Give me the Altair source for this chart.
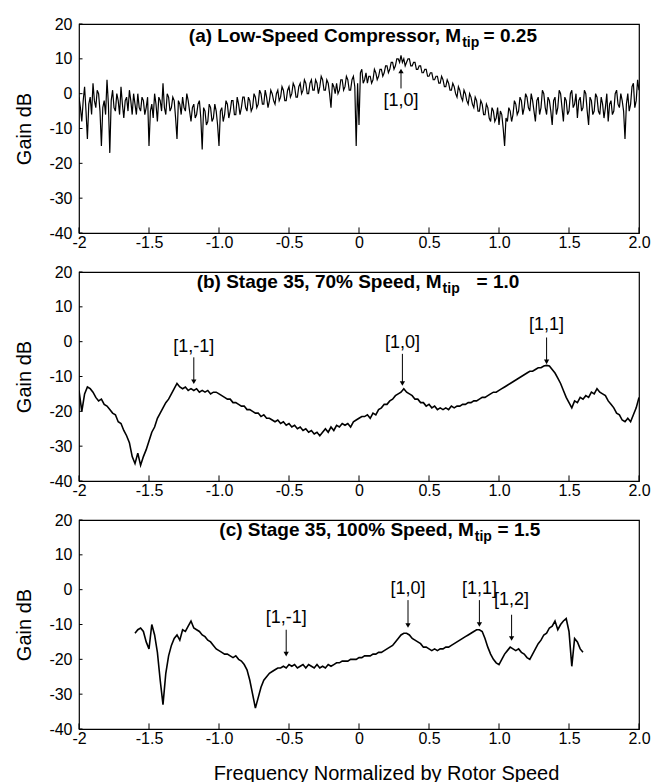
import altair as alt
import numpy as np
import pandas as pd

# ---------------- data ----------------
# (a) Low-speed compressor, frequency grid -2 .. 2 (step 0.01)
gain_a = [
    -1, -4, -8, -2, 2, -5, -13, -3, -1, -6, 3, -2, -4, 1, 0, -5, -15, -4, -2, -6,
    4, -3, -17, -2, 1, -4, -5, 0, -2, -6, 2, -3, -7, -2, -1, -5, 1, -2, -6, 0,
    -3, -6, 0, -4, -5, -1, -2, -6, -4, -1, -15, -5, -3, -7, 0, -3, -8, -1, -2, -5,
    3, -4, -6, 0, -1, -5, -4, -1, -2, -7, -13, -2, -3, -6, -1, -4, -5, 0, -2, -5,
    -8, -4, -3, -7, -6, -3, -2, -7, -16, -4, -5, -9, -8, -3, -4, -8, -7, -3, -5, -9,
    -15, -5, -4, -8, -6, -2, -3, -7, -5, -2, -2, -6, -6, -1, -3, -6, -4, -1, -1, -4,
    -5, -1, -2, -5, -4, 0, -1, -4, -3, 1, 0, -3, -3, 1, -1, -4, -2, 1, 0, -2,
    -3, 0, 1, -2, -1, 2, 1, -2, -2, 1, 2, -1, 0, 3, 2, -1, -1, 2, 3, 0,
    1, 4, 3, 0, 0, 3, 4, 1, 1, 4, 3, 0, 2, 5, 4, 1, 1, 4, 3, 0,
    -4, 3, 2, 0, 3, 0, 1, 4, 4, 1, 2, 5, 4, 1, 1, 4, 5, 2, -15, 3,
    -9, 6, 7, 3, 4, 6, 3, 5, 5, 3, 4, 7, 6, 4, 5, 7, 7, 5, 6, 8,
    8, 6, 7, 9, 9, 7, 8, 10, 10, 9, 11, 9, 10, 8, 9, 10, 10, 8, 8, 9,
    9, 7, 7, 8, 8, 6, 6, 7, 7, 5, 5, 6, 6, 4, 4, 5, 5, 3, 3, 5,
    4, 2, 2, 4, 3, 1, 1, 3, 2, 0, -1, 2, 1, -1, -2, 1, 0, -2, -3, 0,
    -1, -3, -4, -1, -2, -5, -5, -2, -3, -6, -6, -3, -4, -7, -8, -4, -5, -8, -7, -4,
    -9, -5, -6, -10, -15, -7, -8, -4, -5, -8, -6, -2, -3, -6, -5, -1, -2, -6, -4, 0,
    -1, -4, -5, 0, -2, -5, -8, -2, -1, -6, -4, 1, 0, -4, -6, -1, -2, -5, -9, -2,
    -1, -6, -4, 1, 0, -4, -8, -1, -2, -6, -5, 0, 1, -4, -3, 0, -7, -2, -1, -5,
    -4, 1, 0, -5, -9, -1, -2, -6, -5, 0, -1, -5, -6, -1, -3, -7, -4, 0, -8, -3,
    -2, -6, -5, 0, 1, -3, -4, 0, -2, -5, -13, -3, 0, -5, -3, 2, 3, -4, -2, 4,
    1,
]
freq_range_a = [-2.0, 2.0]

# (b) Stage 35, 70% speed, frequency grid -2 .. 2 (step 0.02)
gain_b = [
    -14, -20, -15, -13, -13.5, -14.5, -16, -17, -16.5, -18,
    -18.5, -19.5, -20.5, -21, -23, -23.5, -25.5, -27, -29, -33,
    -35, -32, -35.5, -33, -31, -28.5, -26, -24.5, -22, -20.5,
    -19, -17.5, -16.5, -15, -13.5, -12, -13, -13.5, -13, -14,
    -13.5, -14, -13.5, -14.5, -14, -14.5, -14, -15, -14.5, -14.5,
    -15, -15.5, -16, -16.5, -16.5, -17.5, -17.5, -18, -18.5, -18.5,
    -19.5, -19.5, -20, -20.5, -20.5, -21.5, -21, -22, -22, -22.5,
    -23, -22.5, -23.5, -23, -24, -23.5, -24.5, -24, -25, -24.5,
    -25.5, -25, -26, -25.5, -26.5, -26, -27, -26, -25, -26,
    -24.5, -25.5, -24, -24.5, -23.5, -24, -23.5, -24.5, -23, -22.5,
    -22, -21.5, -21.5, -21, -22, -20.5, -21, -19.5, -19, -18,
    -18, -17, -16.5, -15.5, -15, -14.5, -13.5, -14.5, -15, -15.5,
    -16.5, -16.5, -17.5, -17.5, -18.5, -18, -19, -18.5, -19.5, -19,
    -19.5, -19, -19.5, -18.5, -19, -18.5, -18.5, -18, -18, -17.5,
    -17.5, -17, -17, -16.5, -16, -16, -15.5, -15, -14.5, -14.5,
    -14, -13.5, -13, -12.5, -12, -11.5, -11, -10.5, -10, -9.5,
    -9, -8.5, -8.5, -8, -7.5, -7.5, -7, -6.8, -7, -8,
    -9, -10.5, -12, -14, -16, -17.5, -19, -17, -17.5, -16,
    -16.5, -15.5, -16, -14.5, -15, -13.5, -14.5, -15, -15.5, -17,
    -18, -19, -20.5, -21, -22.5, -23, -22, -23, -21, -19,
    -16,
]
freq_range_b = [-2.0, 2.0]

# (c) Stage 35, 100% speed, frequency grid -1.6 .. 1.6 (step 0.02)
gain_c = [
    -12.5, -11.5, -11, -12, -15, -17, -10, -13, -18, -26,
    -33, -24, -19, -16, -14, -13, -14.5, -11.5, -12, -10.5,
    -9, -11, -11.5, -12, -13, -13.5, -14.5, -15, -16, -17,
    -17.5, -18, -18.5, -18.5, -19, -19.5, -19, -20, -20.5, -21.5,
    -23, -26, -30, -34, -31, -28, -26, -25, -24, -23.5,
    -23, -22.5, -22.5, -22, -22.5, -21.5, -22, -21.5, -22.5, -22,
    -21.5, -22.5, -21.5, -22, -22.5, -21.5, -22.5, -22, -22.5, -21.5,
    -22, -21.5, -21, -21, -20.5, -20.5, -20.5, -20, -20, -20,
    -19.5, -19.5, -19, -19, -19, -18.5, -18.5, -18, -18, -17.5,
    -17, -16.5, -16, -15, -14, -13, -12.5, -12.5, -13, -14,
    -14.5, -15, -15.5, -16.5, -16.5, -17, -17.5, -17, -17.5, -17,
    -17, -16.5, -16.5, -16, -15.5, -15, -14.5, -14, -13.5, -13,
    -12.5, -12, -11.5, -11.5, -12, -14, -16.5, -18.5, -20, -21,
    -21.5, -20, -18.5, -17.5, -16.5, -17, -17.5, -17, -18, -18.5,
    -19.5, -20, -18.5, -17, -15.5, -14.5, -13, -12.5, -11, -10.5,
    -9, -11.5, -10, -9, -8.3, -12, -22, -14, -15, -17,
    -18,
]
freq_range_c = [-1.6, 1.6]

# axis ticks
x_ticks = [-2, -1.5, -1, -0.5, 0, 0.5, 1, 1.5, 2]
x_tick_labels = ["-2", "-1.5", "-1.0", "-0.5", "0", "0.5", "1.0", "1.5", "2.0"]
y_ticks = [20, 10, 0, -10, -20, -30, -40]

# panel titles: main part, "M" end, suffix, suffix start, title height
titles_main = ["(a)  Low-Speed Compressor, M", "(b)  Stage 35, 70% Speed, M", "(c)  Stage 35, 100% Speed, M"]
titles_sub = ["tip", "tip", "tip"]
titles_suffix = ["= 0.25", "= 1.0", "= 1.5"]
titles_m_end = [0.73, 0.59, 0.82]
titles_suffix_x = [0.89, 0.84, 0.99]
titles_y = [16.5, 17.0, 17.0]

# mode annotations
ann_a = {"label": ["[1,0]"], "x": [0.30], "label_y": [-2.0], "from_y": [1.5], "to_y": [6.5], "dir": ["up"]}
ann_b = {"label": ["[1,-1]", "[1,0]", "[1,1]"], "x": [-1.18, 0.31, 1.34],
         "label_y": [-1.6, -0.5, 4.7], "from_y": [-4.5, -3.5, 1.2], "to_y": [-11.5, -12.0, -5.8],
         "dir": ["down", "down", "down"]}
ann_c = {"label": ["[1,-1]", "[1,0]", "[1,1]", "[1,2]"], "x": [-0.52, 0.35, 0.86, 1.09],
         "label_y": [-8.0, 0.3, 0.3, -3.0], "from_y": [-11.5, -3.0, -3.0, -7.2], "to_y": [-18.5, -10.3, -10.0, -14.0],
         "dir": ["down", "down", "down", "down"]}

FONT = "Liberation Sans"
W, H = 560, 209

x_label_expr = " : ".join(
    f"datum.value == {v} ? '{t}'" for v, t in zip(x_ticks, x_tick_labels)
) + " : ''"

xs = alt.Scale(domain=[-2, 2], nice=False, zero=False)
ys = alt.Scale(domain=[-40, 20], nice=False, zero=False)


def make_panel(gain, frange, ann, idx, show_xtitle, lw):
    freq = np.linspace(frange[0], frange[1], len(gain))
    df = pd.DataFrame({"freq": freq, "gain": gain})

    x_axis_kwargs = dict(values=x_ticks, labelExpr=x_label_expr, ticks=False, grid=False, domain=False,
                         labelFontSize=16, labelPadding=1, labelColor="black", labelFont=FONT,
                         labelFlush=False)
    if show_xtitle:
        x_axis_kwargs.update(title="Frequency Normalized by Rotor Speed", titleFontSize=20,
                             titleFontWeight="normal", titleFont=FONT, titleColor="black",
                             titleX=307, titleY=44, titleBaseline="middle", titleAlign="center")
    else:
        x_axis_kwargs.update(title="")
    x_axis = alt.Axis(**x_axis_kwargs)
    y_axis = alt.Axis(values=y_ticks, labelExpr="'' + datum.value", ticks=False, grid=False, domain=False,
                      labelFontSize=16, labelPadding=7, labelColor="black", labelFont=FONT,
                      labelFlush=False,
                      title="Gain dB", titleFontSize=20, titleFontWeight="normal", titleFont=FONT,
                      titleColor="black", titleX=-55, titleY=H / 2, titleAlign="center",
                      titleBaseline="middle", titleAngle=270)

    def X(f):
        return alt.X(f, type="quantitative", scale=xs, axis=x_axis)

    def Y(f):
        return alt.Y(f, type="quantitative", scale=ys, axis=y_axis)

    line = alt.Chart(df).mark_line(color="black", strokeWidth=lw, clip=True).encode(
        x=X("freq"), y=Y("gain"), order="freq:Q"
    )

    # inward tick marks
    xt = pd.DataFrame({"t": x_ticks, "a": [-40] * len(x_ticks), "b": [-38.4] * len(x_ticks)})
    yt = pd.DataFrame({"t": y_ticks, "a": [-2] * len(y_ticks), "b": [-1.975] * len(y_ticks)})
    xtick = alt.Chart(xt).mark_rule(color="black", strokeWidth=1).encode(
        x=X("t"), y=Y("a"), y2="b"
    )
    ytick = alt.Chart(yt).mark_rule(color="black", strokeWidth=1).encode(
        x=X("a"), x2="b", y=Y("t")
    )

    adf = pd.DataFrame(ann)
    adf["shape"] = ["triangle-up" if d == "up" else "triangle-down" for d in adf["dir"]]
    shafts = alt.Chart(adf).mark_rule(color="black", strokeWidth=1).encode(
        x=X("x"), y=Y("from_y"), y2="to_y"
    )
    heads = alt.Chart(adf).mark_point(filled=True, color="black", size=28, opacity=1).encode(
        x=X("x"), y=Y("to_y"),
        shape=alt.Shape("shape:N", scale=None, legend=None),
    )
    labels = alt.Chart(adf).mark_text(font=FONT, fontSize=18, color="black", baseline="middle",
                                      align="center").encode(
        x=X("x"), y=Y("label_y"), text="label:N"
    )

    tdf = pd.DataFrame({
        "main": [titles_main[idx]], "sub": [titles_sub[idx]], "suffix": [titles_suffix[idx]],
        "mx": [titles_m_end[idx]], "sx": [titles_suffix_x[idx]], "ty": [titles_y[idx]],
    })
    t_main = alt.Chart(tdf).mark_text(font=FONT, fontSize=19, fontWeight="bold", color="black",
                                      align="right", baseline="middle").encode(
        x=X("mx"), y=Y("ty"), text="main:N")
    t_sub = alt.Chart(tdf).mark_text(font=FONT, fontSize=14, fontWeight="bold", color="black",
                                     align="left", baseline="middle", dx=1, dy=7).encode(
        x=X("mx"), y=Y("ty"), text="sub:N")
    t_suf = alt.Chart(tdf).mark_text(font=FONT, fontSize=19, fontWeight="bold", color="black",
                                     align="left", baseline="middle").encode(
        x=X("sx"), y=Y("ty"), text="suffix:N")

    return alt.layer(line, xtick, ytick, shafts, heads, labels, t_main, t_sub, t_suf).properties(
        width=W, height=H
    )


pa = make_panel(gain_a, freq_range_a, ann_a, 0, False, 1.2)
pb = make_panel(gain_b, freq_range_b, ann_b, 1, False, 1.6)
pc = make_panel(gain_c, freq_range_c, ann_c, 2, True, 1.6)

chart = alt.vconcat(pa, pb, pc, spacing=12).properties(
    padding={"left": 13, "top": 15, "right": 5, "bottom": 5},
).configure(
    background="white", font=FONT
).configure_view(
    stroke="black", strokeWidth=1.2
)

chart.save("out.html", embed_options={"renderer": "svg", "actions": False})
